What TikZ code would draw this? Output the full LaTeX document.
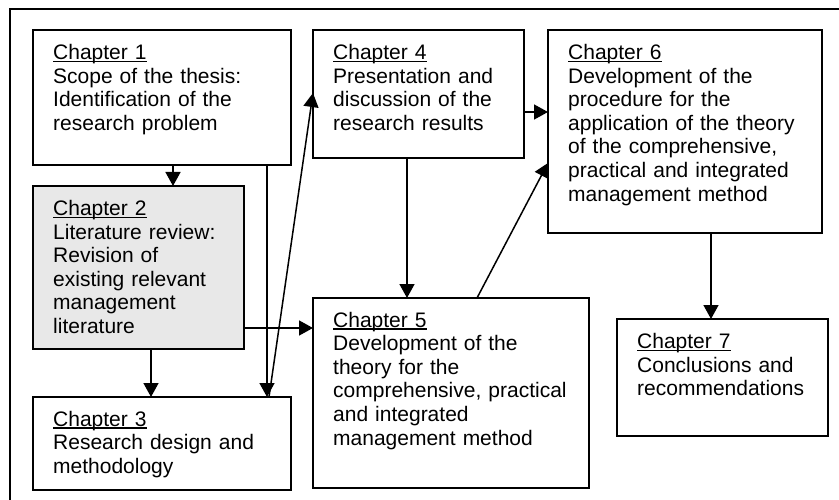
\documentclass[tikz,border=0pt]{standalone}
\usepackage{fontspec}
\setmainfont{Liberation Sans}
\usetikzlibrary{arrows.meta,calc}
\newsavebox{\chulbox}
\newcommand{\chul}[1]{\sbox{\chulbox}{#1}\rlap{\rule[-2.6pt]{\wd\chulbox}{1.4pt}}\usebox{\chulbox}}
\definecolor{lightfill}{RGB}{232,232,232}
\begin{document}
\begin{tikzpicture}[x=1pt,y=-1pt,
  box/.style={draw, line width=1.8pt, anchor=north west, inner sep=0pt, outer sep=0pt},
  txt/.style={anchor=base west, inner sep=0pt, text width=300pt, align=left,
    font=\fontsize{21}{23.6}\selectfont},
  arr/.style={line width=1.5pt, -{Triangle[length=14pt,width=15pt]}},
  frame/.style={draw, line width=1.6pt}]
\clip (0,0) rectangle (839,500);
\fill[white] (0,0) rectangle (839,500);
\draw[frame] (10,9) rectangle (860,520);
% boxes
\node[box, minimum width=258pt, minimum height=135pt] (c1) at (33,30) {};
\node[box, minimum width=211pt, minimum height=128pt] (c4) at (313,30) {};
\node[box, minimum width=274pt, minimum height=203pt] (c6) at (548,30) {};
\node[box, fill=lightfill, minimum width=211pt, minimum height=163pt] (c2) at (33,186) {};
\node[box, minimum width=258pt, minimum height=93pt] (c3) at (33,397) {};
\node[box, minimum width=276pt, minimum height=190pt] (c5) at (313,298) {};
\node[box, minimum width=211pt, minimum height=117pt] (c7) at (617,319) {};
% texts
\node[txt] (t1) at ($(c1.north west)+(20,29.5)$) {\chul{Chapter 1}\\Scope of the thesis:\\Identification of the\\research problem};
\node[txt] (t4) at ($(c4.north west)+(20,29.5)$) {\chul{Chapter 4}\\Presentation and\\discussion of the\\research results};
\node[txt] (t6) at ($(c6.north west)+(20,29.5)$) {\chul{Chapter 6}\\Development of the\\procedure for the\\application of the theory\\of the comprehensive,\\practical and integrated\\management method};
\node[txt] (t2) at ($(c2.north west)+(20,29.5)$) {\chul{Chapter 2}\\Literature review:\\Revision of\\existing relevant\\management\\literature};
\node[txt] (t3) at ($(c3.north west)+(20,29)$) {\chul{Chapter 3}\\Research design and\\methodology};
\node[txt] (t5) at ($(c5.north west)+(20,29)$) {\chul{Chapter 5}\\Development of the\\theory for the\\comprehensive, practical\\and integrated\\management method};
\node[txt] (t7) at ($(c7.north west)+(20,29.5)$) {\chul{Chapter 7}\\Conclusions and\\recommendations};
% connectors
\draw[arr] ($(c1.south west)+(140,0)$) -- ($(c2.north west)+(140,0)$);
\draw[arr] ($(c1.south west)+(234,0)$) -- ($(c3.north west)+(234,0)$);
\draw[arr] ($(c3.north west)+(236,0)$) -- ($(c4.north west)+(0,63)$);
\draw[arr] ($(c2.south west)+(118,0)$) -- ($(c3.north west)+(118,0)$);
\draw[arr] ($(c2.south east)+(0,-21)$) -- ($(c5.north west)+(0,30)$);
\draw[arr] ($(c4.south west)+(94,0)$) -- ($(c5.north west)+(94,0)$);
\draw[arr] ($(c4.north east)+(0,82)$) -- ($(c6.north west)+(0,82)$);
\draw[arr] ($(c5.north west)+(164,0)$) -- ($(c6.north west)+(0,133)$);
\draw[arr] ($(c6.south west)+(163,0)$) -- ($(c7.north west)+(94,0)$);
\end{tikzpicture}
\end{document}
